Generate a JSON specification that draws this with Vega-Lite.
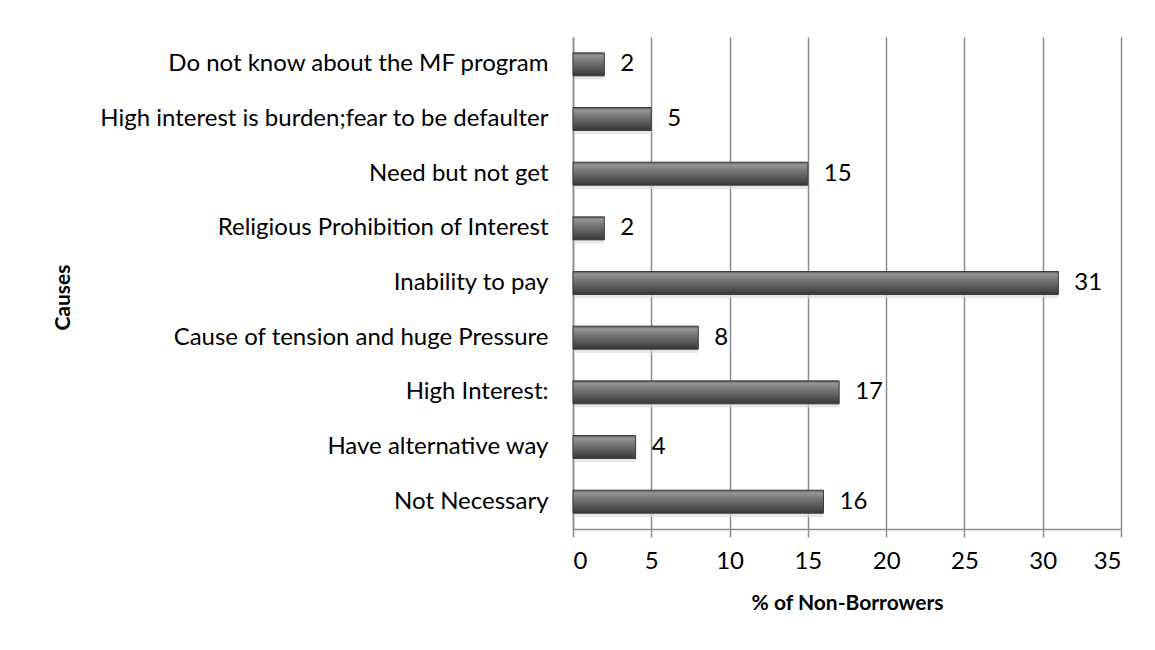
{
  "$schema": "https://vega.github.io/schema/vega-lite/v6.json",
  "width": 548,
  "height": 492,
  "autosize": {"type": "none"},
  "padding": {"left": 573, "top": 37, "right": 34, "bottom": 121},
  "background": "white",
  "config": {
    "font": "Lato",
    "view": {"stroke": null},
    "axis": {"labelFont": "Lato", "titleFont": "Lato", "labelColor": "#000000", "titleColor": "#000000"}
  },
  "data": {
    "values": [
      {"cause": "Do not know about the MF program", "pct": 2},
      {"cause": "High interest is burden;fear to be defaulter", "pct": 5},
      {"cause": "Need but not get", "pct": 15},
      {"cause": "Religious Prohibition of Interest", "pct": 2},
      {"cause": "Inability to pay", "pct": 31},
      {"cause": "Cause of tension and huge Pressure", "pct": 8},
      {"cause": "High Interest:", "pct": 17},
      {"cause": "Have alternative way", "pct": 4},
      {"cause": "Not Necessary", "pct": 16}
    ]
  },
  "encoding": {
    "y": {
      "field": "cause",
      "type": "nominal",
      "sort": null,
      "scale": {"paddingInner": 0.58, "paddingOuter": 0.29},
      "axis": {
        "title": "Causes",
        "titleFontSize": 21,
        "titleFontWeight": "bold",
        "titleAngle": -90,
        "titleX": -510,
        "titleY": 260,
        "titleAlign": "center",
        "titleBaseline": "middle",
        "labelFontSize": 24,
        "labelPadding": 25,
        "labelLimit": 500,
        "ticks": false,
        "domainColor": "#8c8c8c",
        "domainWidth": 1.5,
        "grid": false
      }
    },
    "x": {
      "field": "pct",
      "type": "quantitative",
      "scale": {"domain": [0, 35], "nice": false},
      "axis": {
        "title": "% of Non-Borrowers",
        "titleFontSize": 21,
        "titleFontWeight": "bold",
        "titleY": 74,
        "titleBaseline": "middle",
        "values": [0, 5, 10, 15, 20, 25, 30, 35],
        "labelFontSize": 24,
        "labelPadding": 12,
        "tickSize": 8,
        "tickColor": "#8c8c8c",
        "tickWidth": 1.5,
        "domainColor": "#8c8c8c",
        "domainWidth": 1.5,
        "grid": true,
        "gridColor": "#8c8c8c",
        "gridWidth": 1.5
      }
    }
  },
  "layer": [
    {
      "mark": {"type": "bar", "color": "#dcdcdc", "opacity": 0.7, "yOffset": 4, "xOffset": 2, "cornerRadius": 2},
      "encoding": {}
    },
    {
      "mark": {
        "type": "bar",
        "stroke": "#3c3c3c",
        "strokeWidth": 1,
        "color": {
          "gradient": "linear",
          "x1": 0, "y1": 0, "x2": 0, "y2": 1,
          "stops": [
            {"offset": 0, "color": "#5a5a5a"},
            {"offset": 0.12, "color": "#959595"},
            {"offset": 0.35, "color": "#787878"},
            {"offset": 0.65, "color": "#5c5c5c"},
            {"offset": 0.85, "color": "#474747"},
            {"offset": 1, "color": "#353535"}
          ]
        }
      },
      "encoding": {}
    },
    {
      "mark": {"type": "text", "align": "left", "baseline": "middle", "dx": 16, "fontSize": 24, "color": "#000000"},
      "encoding": {"text": {"field": "pct", "type": "quantitative"}}
    }
  ]
}
